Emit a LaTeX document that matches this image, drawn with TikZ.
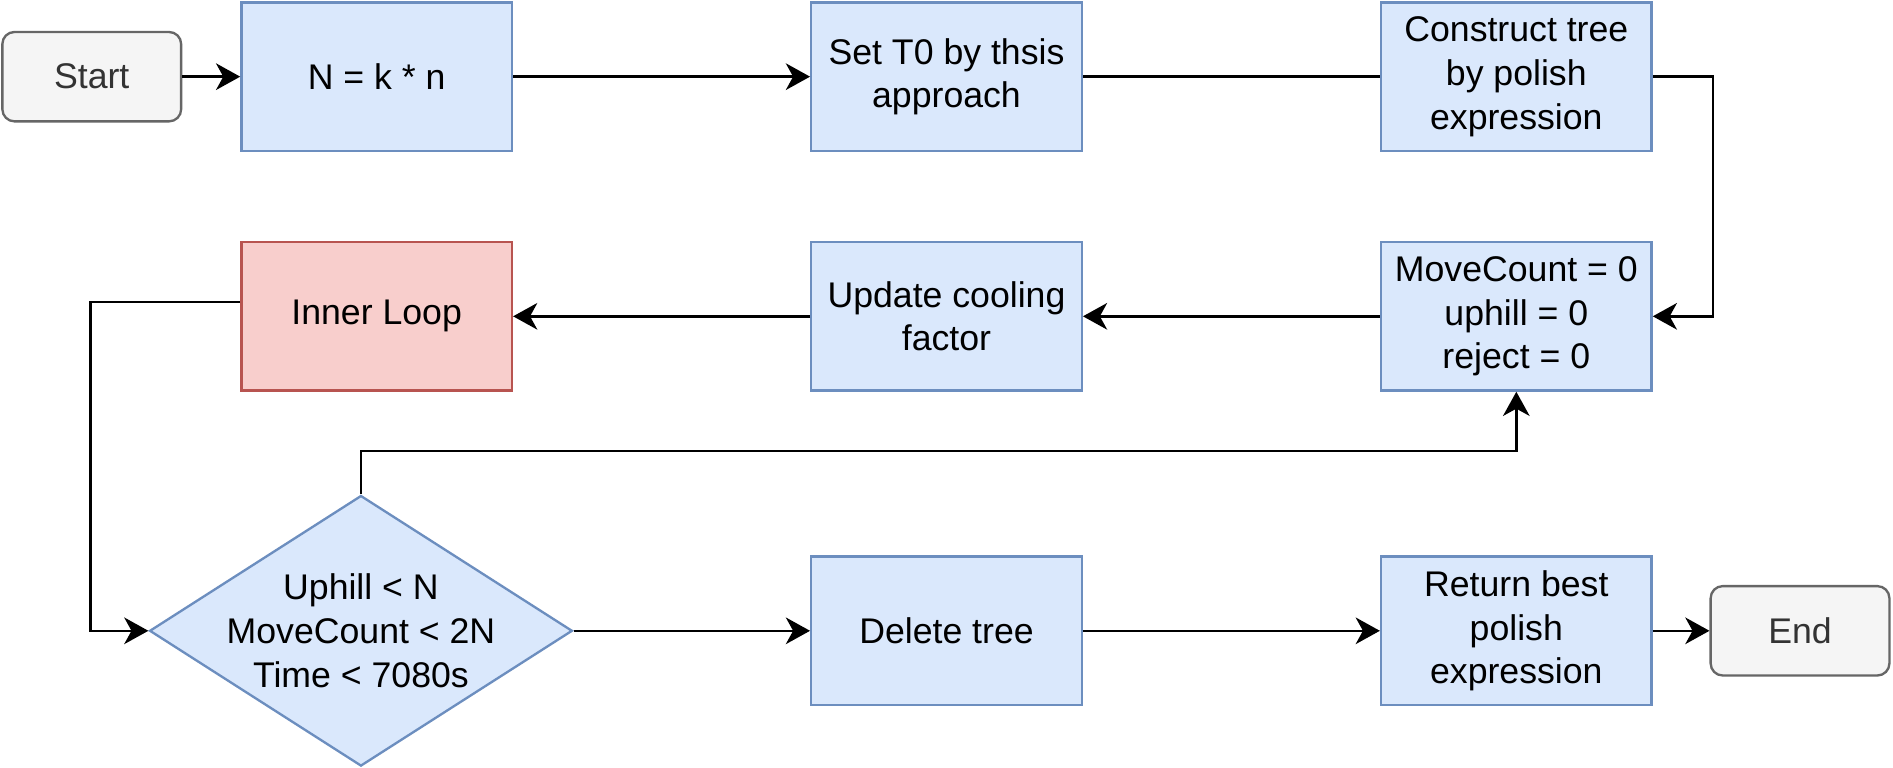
\documentclass[tikz,border=0pt]{standalone}
\usepackage{fontspec}
\setmainfont{Liberation Sans}
\usetikzlibrary{arrows.meta,shapes.geometric}
\definecolor{bluefill}{HTML}{DAE8FC}
\definecolor{blueline}{HTML}{6C8EBF}
\definecolor{redfill}{HTML}{F8CECC}
\definecolor{redline}{HTML}{B85450}
\definecolor{greyfill}{HTML}{F5F5F5}
\definecolor{greyline}{HTML}{666666}
\definecolor{greytext}{HTML}{333333}
\begin{document}
\begin{tikzpicture}[x=0.01cm,y=-0.01cm,
    every node/.style={font=\fontsize{8.4}{10.3}\selectfont,align=center,line width=0.55pt},
    box/.style={draw=blueline,fill=bluefill,minimum width=2.24cm,minimum height=1.23cm,inner sep=0pt},
    loopbox/.style={box,draw=redline,fill=redfill},
    term/.style={draw=greyline,fill=greyfill,text=greytext,rounded corners=0.1cm,minimum width=1.48cm,minimum height=0.74cm},
    decision/.style={diamond,aspect=1.5625,draw=blueline,fill=bluefill,minimum width=3.5cm,minimum height=2.24cm,inner sep=-3pt},
    arr/.style={-{Stealth[length=0.2cm,width=0.22cm,inset=0.06cm]},line width=0.6pt}]
    \useasboundingbox (0,0) rectangle (1568,636);
    \node[term] (start) at (76,63.5) {Start};
    \node[box] (nk) at (312,63.5) {N = k * n};
    \node[box] (sett) at (784,63.5) {Set T0 by thsis\\approach};
    \node[box] (tree) at (1256,63.5) {Construct tree\\by polish\\expression};
    \node[box] (reset) at (1256,262) {MoveCount = 0\\uphill = 0\\reject = 0};
    \node[box] (cool) at (784,262) {Update cooling\\factor};
    \node[loopbox] (inner) at (312,262) {Inner Loop};
    \node[decision] (cond) at (299,522.5) {Uphill < N\\MoveCount < 2N\\Time < 7080s};
    \node[box] (del) at (784,522.5) {Delete tree};
    \node[box] (ret) at (1256,522.5) {Return best\\polish\\expression};
    \node[term] (stop) at (1491,522.5) {End};
    \draw[arr] (start) -- (nk);
    \draw[arr] (nk) -- (sett);
    \draw[line width=0.6pt] (sett) -- (tree);
    \draw[arr] (tree.east) -- ++(50,0) |- (reset.east);
    \draw[arr] (reset) -- (cool);
    \draw[arr] (cool) -- (inner);
    \draw[arr] ([yshift=0.12cm]inner.west) -- ++(-124,0) |- (cond.west);
    \draw[arr] (cond.north) -- ++(0,-36) -| (reset.south);
    \draw[arr] (cond) -- (del);
    \draw[arr] (del) -- (ret);
    \draw[arr] (ret) -- (stop);
\end{tikzpicture}
\end{document}
